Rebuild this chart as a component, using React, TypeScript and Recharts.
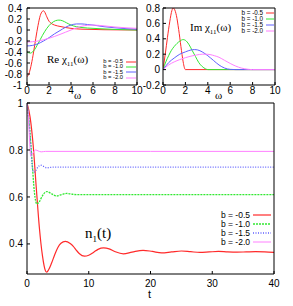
import { LineChart, Line, XAxis, YAxis } from 'recharts'

const bLabels = ['b = -0.5', 'b = -1.0', 'b = -1.5', 'b = -2.0']
const colors = ['#ff2a2a', '#33e833', '#6060ff', '#ff80ff']
const bottomDash = ['', '2 1', '1 1.5', '']
const bottomWidth = [1.2, 1.3, 1.3, 1]

const omegaTicks = [0, 2, 4, 6, 8, 10]
const reTicks = [-1, -0.8, -0.6, -0.4, -0.2, 0, 0.2, 0.4]
const imTicks = [-0.2, 0, 0.2, 0.4, 0.6, 0.8]
const tTicks = [0, 10, 20, 30, 40]
const nTicks = [0.4, 0.6, 0.8, 1]

// Re chi_11(omega), [omega, value]
const reB05 = [[0, -0.85], [0.2, -0.78], [0.4, -0.62], [0.6, -0.4], [0.8, -0.15], [1.0, 0.08], [1.2, 0.26], [1.4, 0.34], [1.5, 0.35], [1.6, 0.33], [1.8, 0.24], [2.0, 0.16], [2.2, 0.12], [2.5, 0.09], [3, 0.065], [3.5, 0.045], [4, 0.03], [5, 0.015], [6, 0.01], [7, 0.005], [8, 0.003], [10, 0]]
const reB10 = [[0, -0.4], [0.3, -0.42], [0.6, -0.38], [1.0, -0.25], [1.4, -0.1], [1.8, 0.03], [2.2, 0.12], [2.6, 0.17], [2.9, 0.18], [3.2, 0.17], [3.6, 0.13], [4.0, 0.09], [4.5, 0.06], [5, 0.045], [6, 0.03], [7, 0.02], [8, 0.01], [9, 0.005], [10, 0]]
const reB15 = [[0, -0.29], [0.5, -0.28], [1.0, -0.25], [1.5, -0.2], [2.0, -0.14], [2.5, -0.07], [3.0, -0.01], [3.5, 0.05], [4.0, 0.09], [4.5, 0.11], [5, 0.11], [5.5, 0.1], [6, 0.09], [7, 0.06], [8, 0.04], [9, 0.025], [10, 0.015]]
const reB20 = [[0, -0.22], [1, -0.2], [2, -0.15], [3, -0.08], [3.5, -0.04], [4, 0], [4.5, 0.04], [5, 0.07], [5.5, 0.085], [6, 0.09], [6.5, 0.085], [7, 0.075], [8, 0.055], [9, 0.04], [10, 0.03]]

// Im chi_11(omega)
const imB05 = [[0, 0], [0.2, 0.2], [0.4, 0.42], [0.6, 0.62], [0.8, 0.77], [0.9, 0.8], [1.0, 0.79], [1.2, 0.7], [1.4, 0.52], [1.6, 0.3], [1.8, 0.1], [1.9, 0.03], [2.0, 0], [4, 0], [10, 0]]
const imB10 = [[0, 0], [0.25, 0.1], [0.5, 0.18], [0.75, 0.25], [1.0, 0.3], [1.25, 0.34], [1.5, 0.37], [1.8, 0.39], [2.0, 0.38], [2.3, 0.33], [2.6, 0.25], [2.9, 0.17], [3.2, 0.09], [3.5, 0.04], [3.8, 0.01], [4, 0], [10, 0]]
const imB15 = [[0, 0], [0.5, 0.09], [1, 0.15], [1.5, 0.2], [2, 0.23], [2.5, 0.255], [2.8, 0.26], [3.1, 0.255], [3.5, 0.23], [4, 0.18], [4.5, 0.12], [5, 0.06], [5.5, 0.02], [6, 0.003], [6.5, 0], [10, 0]]
const imB20 = [[0, 0], [0.5, 0.06], [1, 0.1], [1.5, 0.13], [2, 0.155], [2.5, 0.175], [3, 0.19], [3.5, 0.2], [3.8, 0.2], [4.2, 0.195], [4.6, 0.18], [5, 0.16], [5.5, 0.12], [6, 0.08], [6.5, 0.045], [7, 0.02], [7.5, 0.006], [8, 0], [10, 0]]

// n_1(t)
const nB05 = [[0, 1.0], [0.5, 0.94], [1.0, 0.82], [1.5, 0.64], [2.0, 0.47], [2.5, 0.35], [3.0, 0.285], [3.2, 0.28], [3.5, 0.29], [4, 0.32], [4.5, 0.355], [5, 0.385], [5.5, 0.403], [6.2, 0.411], [7, 0.402], [7.5, 0.39], [8, 0.373], [8.5, 0.358], [9.3, 0.348], [10, 0.352], [10.8, 0.365], [11.5, 0.377], [12.4, 0.383], [13.3, 0.379], [14.2, 0.368], [15.6, 0.358], [17, 0.365], [18.8, 0.373], [20.3, 0.368], [21.8, 0.362], [23.4, 0.366], [25, 0.37], [26.5, 0.367], [28, 0.364], [29.5, 0.366], [31, 0.368], [32.5, 0.366], [34, 0.365], [35.5, 0.366], [37, 0.367], [38.5, 0.366], [40, 0.364]]
const nB10 = [[0, 1], [0.4, 0.9], [0.8, 0.76], [1.2, 0.62], [1.6, 0.57], [2.0, 0.58], [2.5, 0.605], [3.2, 0.623], [4, 0.613], [4.8, 0.604], [5.6, 0.61], [6.4, 0.615], [7.2, 0.612], [8, 0.61], [9, 0.61], [20, 0.61], [30, 0.61], [40, 0.61]]
const nB15 = [[0, 1], [0.3, 0.93], [0.6, 0.82], [0.9, 0.72], [1.1, 0.705], [1.4, 0.712], [1.8, 0.728], [2.2, 0.735], [2.7, 0.73], [3.2, 0.724], [3.8, 0.726], [4.5, 0.727], [20, 0.727], [40, 0.727]]
const nB20 = [[0, 1], [0.2, 0.95], [0.4, 0.85], [0.6, 0.775], [0.8, 0.78], [1.1, 0.793], [1.4, 0.8], [1.8, 0.796], [2.3, 0.792], [3, 0.794], [20, 0.794], [40, 0.794]]

const pts = (a: number[][]) => a.map(([x, y]) => ({ x, y }))

const sans = 'Liberation Sans, Arial, sans-serif'
const serif = 'Liberation Serif, Times New Roman, serif'
const tickFont = { fontSize: 10, fontFamily: sans, fill: '#000' }
const ax = { stroke: '#000', strokeWidth: 1 }

type PanelProps = {
  left: number
  top: number
  width: number
  height: number
  margin: { top: number; right: number; left: number; bottom: number }
  yWidth: number
  xHeight: number
  xDomain: number[]
  xTicks: number[]
  yDomain: number[]
  yTicks: number[]
  xMargin: number
  yMargin: number
  series: number[][][]
  dash?: string[]
  widths?: number[]
}

function Panel(p: PanelProps) {
  return (
    <div style={{ position: 'absolute', left: p.left, top: p.top }}>
      <LineChart width={p.width} height={p.height} margin={p.margin}>
        <XAxis dataKey="x" type="number" domain={p.xDomain} ticks={p.xTicks} height={p.xHeight} interval={0}
          tickSize={-3} tickMargin={p.xMargin} tick={tickFont} axisLine={ax} tickLine={ax} allowDataOverflow />
        <XAxis xAxisId="top" orientation="top" dataKey="x" type="number" domain={p.xDomain} ticks={p.xTicks} height={1}
          interval={0} tickSize={-3} tick={false} axisLine={ax} tickLine={ax} allowDataOverflow />
        <YAxis type="number" domain={p.yDomain} ticks={p.yTicks} width={p.yWidth} interval={0}
          tickSize={-3} tickMargin={p.yMargin} tick={tickFont} axisLine={ax} tickLine={ax} allowDataOverflow />
        <YAxis yAxisId="right" orientation="right" type="number" domain={p.yDomain} ticks={p.yTicks} width={1}
          interval={0} tickSize={-3} tick={false} axisLine={ax} tickLine={ax} allowDataOverflow />
        {p.series.map((s, i) => (
          <Line key={i} data={pts(s)} dataKey="y" type="monotone" stroke={colors[i]}
            strokeWidth={p.widths ? p.widths[i] : 1} strokeDasharray={p.dash ? p.dash[i] : undefined}
            dot={false} isAnimationActive={false} />
        ))}
      </LineChart>
    </div>
  )
}

function Key(props: { right: number; top: number; gap: number; font: number; len: number; dash?: string[]; widths?: number[] }) {
  return (
    <div style={{ position: 'absolute', left: 0, top: 0, width: 293, height: 306, pointerEvents: 'none' }}>
      {bLabels.map((lab, i) => (
        <div key={i} style={{ position: 'absolute', top: props.top + i * props.gap, right: 293 - props.right,
          display: 'flex', alignItems: 'center', whiteSpace: 'nowrap', height: 0 }}>
          <span style={{ fontSize: props.font, fontFamily: sans, marginRight: 3, lineHeight: `${props.gap}px` }}>{lab}</span>
          <svg width={props.len} height={4} style={{ display: 'block' }}>
            <line x1={0} x2={props.len} y1={2} y2={2} stroke={colors[i]}
              strokeWidth={props.widths ? props.widths[i] : 1} strokeDasharray={props.dash ? props.dash[i] : undefined} />
          </svg>
        </div>
      ))}
    </div>
  )
}

export default function App() {
  return (
    <div style={{ position: 'absolute', left: 0, top: 0, width: 293, height: 306, background: '#fff', overflow: 'hidden' }}>
      <Panel left={0} top={0} width={150} height={100} margin={{ top: 7, right: 12, left: 0, bottom: 0 }}
        yWidth={27} xHeight={15} xDomain={[0, 10]} xTicks={omegaTicks} yDomain={[-1, 0.4]} yTicks={reTicks}
        xMargin={5} yMargin={8} series={[reB05, reB10, reB15, reB20]} />
      <Panel left={139} top={0} width={154} height={100} margin={{ top: 7, right: 17, left: 0, bottom: 0 }}
        yWidth={24} xHeight={15} xDomain={[0, 10]} xTicks={omegaTicks} yDomain={[-0.2, 0.8]} yTicks={imTicks}
        xMargin={5} yMargin={6} series={[imB05, imB10, imB15, imB20]} />
      <Panel left={0} top={96} width={293} height={210} margin={{ top: 6, right: 18, left: 0, bottom: 0 }}
        yWidth={27} xHeight={32} xDomain={[0, 40]} xTicks={tTicks} yDomain={[0.272, 1]} yTicks={nTicks}
        xMargin={9} yMargin={7} series={[nB05, nB10, nB15, nB20]} dash={bottomDash} widths={bottomWidth} />

      <Key right={136} top={61.5} gap={5.4} font={5.8} len={10} />
      <Key right={274} top={13} gap={6} font={6.3} len={8} />
      <Key right={271} top={215} gap={9} font={8.5} len={18} dash={bottomDash} widths={bottomWidth} />

      <div style={{ position: 'absolute', left: 47, top: 53, fontFamily: serif, fontSize: 11, whiteSpace: 'nowrap' }}>
        Re χ<sub style={{ fontSize: 7 }}>11</sub>(ω)
      </div>
      <div style={{ position: 'absolute', left: 190, top: 21, fontFamily: serif, fontSize: 11, whiteSpace: 'nowrap' }}>
        Im χ<sub style={{ fontSize: 7 }}>11</sub>(ω)
      </div>
      <div style={{ position: 'absolute', left: 85, top: 225, fontFamily: serif, fontSize: 15, whiteSpace: 'nowrap' }}>
        n<sub style={{ fontSize: 9 }}>1</sub>(t)
      </div>
      <div style={{ position: 'absolute', left: 74, top: 89, fontFamily: serif, fontSize: 11 }}>ω</div>
      <div style={{ position: 'absolute', left: 215, top: 89, fontFamily: serif, fontSize: 11 }}>ω</div>
      <div style={{ position: 'absolute', left: 148, top: 288, fontFamily: sans, fontSize: 11 }}>t</div>
    </div>
  )
}
